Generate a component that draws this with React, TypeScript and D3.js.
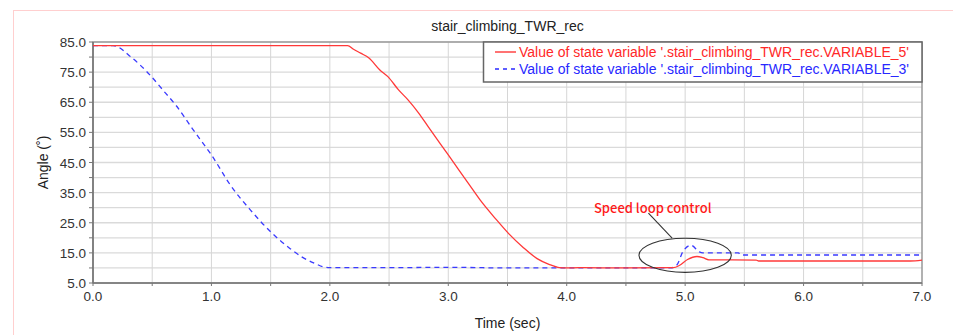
import React, { useEffect, useRef } from 'react';
import * as d3 from 'd3';

// series (time in sec, angle in degrees)
const time5 = [0, 2.15, 2.2, 2.26, 2.33, 2.42, 2.49, 2.58, 2.66, 2.75, 2.83, 3.0, 3.09, 3.18, 3.27, 3.4, 3.51, 3.63, 3.75, 3.85, 3.94, 4.0, 4.1, 4.5, 4.9, 4.95, 5.02, 5.1, 5.15, 5.2, 5.6, 5.62, 6.9, 7.0];
const angle5 = [83.8, 83.8, 82.6, 81.3, 79.7, 75.8, 73.5, 69.1, 65.8, 61.4, 56.9, 47.5, 42.5, 37.5, 32.5, 26.3, 21.4, 16.9, 13.1, 11.2, 10.1, 10.0, 10.1, 10.0, 10.1, 10.8, 12.8, 13.8, 13.4, 12.7, 12.6, 12.3, 12.3, 12.6];

const time3 = [0, 0.17, 0.33, 0.48, 0.6, 0.7, 0.84, 0.96, 1.0, 1.16, 1.33, 1.5, 1.665, 1.77, 1.88, 1.95, 2.0, 2.5, 3.0, 3.5, 4.0, 4.5, 4.88, 4.93, 4.98, 5.05, 5.12, 5.15, 5.45, 5.47, 7.0];
const angle3 = [83.8, 83.8, 79.7, 74.1, 68.6, 64.0, 56.2, 49.7, 47.5, 37.5, 29.2, 22.0, 16.4, 13.5, 11.4, 10.3, 10.1, 10.1, 10.2, 10.0, 10.0, 10.0, 10.0, 11.0, 15.3, 17.5, 15.3, 15.0, 15.0, 14.3, 14.3];

const seriesNames = [
  "Value of state variable '.stair_climbing_TWR_rec.VARIABLE_5'",
  "Value of state variable '.stair_climbing_TWR_rec.VARIABLE_3'",
];
const xTickLabels = ['0.0', '1.0', '2.0', '3.0', '4.0', '5.0', '6.0', '7.0'];
const yTickLabels = ['5.0', '15.0', '25.0', '35.0', '45.0', '55.0', '65.0', '75.0', '85.0'];

const W = 953;
const H = 335;
const margin = { left: 93, right: 31, top: 42, bottom: 52 };
const FONT = 'Liberation Sans, Arial, sans-serif';

export default function App() {
  const ref = useRef<SVGSVGElement>(null);

  useEffect(() => {
    const svg = d3.select(ref.current);
    svg.selectAll('*').remove();

    const x = d3.scaleLinear().domain([0, 7]).range([margin.left, W - margin.right]);
    const y = d3.scaleLinear().domain([5, 85]).range([H - margin.bottom, margin.top]);

    // page frame (pink, partly cut off)
    svg.append('rect')
      .attr('x', 13.5).attr('y', 10.5).attr('width', 960).attr('height', 340)
      .attr('fill', 'none').attr('stroke', '#ffcfcf');

    // grid
    const g = svg.append('g');
    g.selectAll('.hg').data(d3.range(5, 86, 5)).enter().append('line')
      .attr('x1', x(0)).attr('x2', x(7))
      .attr('y1', d => y(d)).attr('y2', d => y(d))
      .attr('stroke', '#dadada').attr('stroke-width', 1.3);
    g.selectAll('.vg').data(d3.range(0, 7.01, 0.5)).enter().append('line')
      .attr('x1', d => x(d)).attr('x2', d => x(d))
      .attr('y1', y(5)).attr('y2', y(85))
      .attr('stroke', '#d6d6d6').attr('stroke-width', 1);

    // plot frame
    svg.append('rect')
      .attr('x', x(0)).attr('y', y(85)).attr('width', x(7) - x(0)).attr('height', y(5) - y(85))
      .attr('fill', 'none').attr('stroke', '#8a8a8a').attr('stroke-width', 1.2);
    svg.append('line').attr('x1', x(0)).attr('x2', x(7)).attr('y1', y(5)).attr('y2', y(5))
      .attr('stroke', '#777').attr('stroke-width', 1.6);
    svg.append('line').attr('x1', x(0)).attr('x2', x(0)).attr('y1', y(5)).attr('y2', y(85))
      .attr('stroke', '#777').attr('stroke-width', 1.6);

    // axes ticks
    svg.selectAll('.yt').data(d3.range(5, 86, 5)).enter().append('line')
      .attr('x1', x(0) - 4).attr('x2', x(0))
      .attr('y1', d => y(d)).attr('y2', d => y(d))
      .attr('stroke', '#777');
    svg.selectAll('.xt').data(d3.range(0, 7.01, 0.5)).enter().append('line')
      .attr('x1', d => x(d)).attr('x2', d => x(d))
      .attr('y1', y(5)).attr('y2', y(5) + 3)
      .attr('stroke', '#777');

    svg.selectAll('.yl').data(yTickLabels).enter().append('text')
      .attr('x', x(0) - 7).attr('y', d => y(+d) + 5)
      .attr('text-anchor', 'end')
      .style('font', `13.5px ${FONT}`).attr('fill', '#333')
      .text(d => d);
    svg.selectAll('.xl').data(xTickLabels).enter().append('text')
      .attr('x', d => x(+d)).attr('y', y(5) + 18)
      .attr('text-anchor', 'middle')
      .style('font', `13.5px ${FONT}`).attr('fill', '#333')
      .text(d => d);

    // titles
    svg.append('text').attr('x', (x(0) + x(7)) / 2).attr('y', 31)
      .attr('text-anchor', 'middle').style('font', `14px ${FONT}`).attr('fill', '#222')
      .text('stair_climbing_TWR_rec');
    svg.append('text').attr('x', (x(0) + x(7)) / 2).attr('y', 328)
      .attr('text-anchor', 'middle').style('font', `14px ${FONT}`).attr('fill', '#222')
      .text('Time (sec)');
    svg.append('text')
      .attr('transform', `translate(48,${(y(5) + y(85)) / 2}) rotate(-90)`)
      .attr('text-anchor', 'middle').style('font', `14px ${FONT}`).attr('fill', '#222')
      .text('Angle (˚)');

    // lines
    const line = d3.line<[number, number]>()
      .x(d => x(d[0])).y(d => y(d[1]))
      .curve(d3.curveMonotoneX);
    const lines = svg.append('g');
    lines.append('path')
      .datum(time3.map((t, i) => [t, angle3[i]] as [number, number]))
      .attr('d', line)
      .attr('fill', 'none').attr('stroke', '#3a3aff').attr('stroke-width', 1.3)
      .attr('stroke-dasharray', '5,4');
    lines.append('path')
      .datum(time5.map((t, i) => [t, angle5[i]] as [number, number]))
      .attr('d', line)
      .attr('fill', 'none').attr('stroke', '#ff3838').attr('stroke-width', 1.3);

    // legend
    const lg = svg.append('g');
    lg.append('rect').attr('x', 483.5).attr('y', y(85)).attr('width', x(7) - 483.5).attr('height', 40)
      .attr('fill', '#fff').attr('stroke', '#666').attr('stroke-width', 1.5);
    const colors = ['#ff2828', '#2828ff'];
    seriesNames.forEach((name, i) => {
      const ly = 52 + i * 17;
      lg.append('line').attr('x1', 495).attr('x2', 516).attr('y1', ly).attr('y2', ly)
        .attr('stroke', colors[i]).attr('stroke-width', 1.3)
        .attr('stroke-dasharray', i === 1 ? '4,4' : null);
      lg.append('text').attr('x', 519).attr('y', ly + 5)
        .style('font', `14px ${FONT}`).attr('fill', colors[i])
        .text(name);
    });

    // annotation
    svg.append('ellipse')
      .attr('cx', x(5.0)).attr('cy', y(14.2))
      .attr('rx', x(0.39) - x(0)).attr('ry', y(5) - y(10.66))
      .attr('fill', 'none').attr('stroke', '#333').attr('stroke-width', 1.1);
    svg.append('line')
      .attr('x1', x(4.69)).attr('y1', y(28.2)).attr('x2', x(4.89)).attr('y2', y(19.9))
      .attr('stroke', '#333').attr('stroke-width', 1.1);
    svg.append('text').attr('x', x(4.23)).attr('y', 213)
      .style('font', '500 13px "Noto Sans CJK SC", "Noto Sans", sans-serif').attr('fill', '#ff1a1a')
      .text('Speed loop control');
  }, []);

  return (
    <svg ref={ref} width={W} height={H}
      style={{ position: 'absolute', left: 0, top: 0, background: '#fff' }} />
  );
}
